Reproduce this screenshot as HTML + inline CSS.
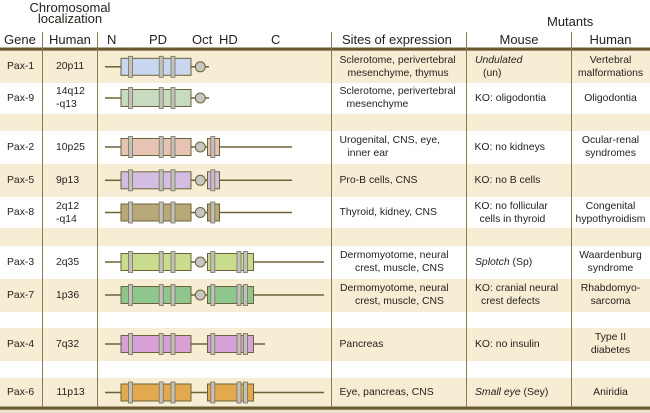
<!DOCTYPE html>
<html><head><meta charset="utf-8">
<style>
*{margin:0;padding:0;box-sizing:border-box}
body{width:650px;height:412px;position:relative;background:#fff;font-family:"Liberation Sans",Arial,Helvetica,sans-serif;color:#231f1a;overflow:hidden}
.bg{position:absolute;left:0;width:650px}
.b{background:#f6edd4}
.h{position:absolute;font-size:13px;line-height:15px;white-space:nowrap}
.c{position:absolute;display:flex;align-items:center;font-size:10.4px;line-height:13px;white-space:nowrap}
.ctr{justify-content:center;text-align:center}
svg{position:absolute;left:0;top:0}
</style></head><body>

<!-- row backgrounds -->
<div class="bg b" style="top:51px;height:31.5px"></div>
<div class="bg b" style="top:113.5px;height:17.5px"></div>
<div class="bg b" style="top:163.5px;height:33.5px"></div>
<div class="bg b" style="top:228px;height:18px"></div>
<div class="bg b" style="top:278.5px;height:33.5px"></div>
<div class="bg b" style="top:328px;height:32.5px"></div>
<div class="bg b" style="top:377.5px;height:32px"></div>
<div class="bg" style="top:409.5px;height:3px;background:#ece4cc"></div>

<svg width="650" height="412" viewBox="0 0 650 412">
<defs>
<g id="b1">
<line x1="105" y1="0" x2="121" y2="0" stroke="#6b6238" stroke-width="1.5"/>
<rect x="121" y="-8.5" width="70" height="17" stroke="#6b6238" stroke-width="1"/>
<rect x="128.5" y="-10.5" width="4" height="21" fill="#c4c1ba" stroke="#76735f" stroke-width="0.8"/>
<rect x="159.2" y="-10.5" width="4" height="21" fill="#c4c1ba" stroke="#76735f" stroke-width="0.8"/>
<rect x="171" y="-10.5" width="4" height="21" fill="#c4c1ba" stroke="#76735f" stroke-width="0.8"/>
</g>
<g id="cA">
<line x1="191" y1="0" x2="209" y2="0" stroke="#6b6238" stroke-width="1.5"/>
<circle cx="200.3" cy="0" r="5" fill="#c8c6c0" stroke="#6b6238" stroke-width="1"/>
</g>
<g id="cB">
<line x1="191" y1="0" x2="208" y2="0" stroke="#6b6238" stroke-width="1.5"/>
<circle cx="200.3" cy="0" r="5" fill="#c8c6c0" stroke="#6b6238" stroke-width="1"/>
</g>
<line id="conn" x1="191" y1="0" x2="208" y2="0" stroke="#6b6238" stroke-width="1.5"/>
<g id="bs">
<rect x="207.5" y="-8.5" width="12" height="17" stroke="#6b6238" stroke-width="1"/>
<rect x="210.8" y="-10.5" width="4" height="21" fill="#c4c1ba" stroke="#76735f" stroke-width="0.8"/>
</g>
<g id="bl">
<rect x="207.5" y="-8.5" width="46" height="17" stroke="#6b6238" stroke-width="1"/>
<rect x="210.8" y="-10.5" width="4" height="21" fill="#c4c1ba" stroke="#76735f" stroke-width="0.8"/>
<rect x="237" y="-10.5" width="4" height="21" fill="#c4c1ba" stroke="#76735f" stroke-width="0.8"/>
<rect x="243.5" y="-10.5" width="4" height="21" fill="#c4c1ba" stroke="#76735f" stroke-width="0.8"/>
</g>
</defs>

<!-- header & bottom rules -->
<rect x="0" y="47.5" width="650" height="3.2" fill="#6a5a30"/>
<rect x="0" y="406.5" width="650" height="3.2" fill="#6a5a30"/>

<!-- vertical lines -->
<g stroke="#8a7b52" stroke-width="1">
<line x1="42.5" y1="32" x2="42.5" y2="407"/>
<line x1="97.5" y1="32" x2="97.5" y2="407"/>
<line x1="331.5" y1="32" x2="331.5" y2="407"/>
<line x1="466.5" y1="32" x2="466.5" y2="407"/>
<line x1="571.5" y1="32" x2="571.5" y2="407"/>
</g>

<!-- Pax-1 -->
<use href="#cA" y="66.8"/>
<use href="#b1" y="66.8" fill="#c8d7ef"/>
<!-- Pax-9 -->
<use href="#cA" y="98"/>
<use href="#b1" y="98" fill="#c6dbbf"/>
<!-- Pax-2 -->
<line x1="219.5" y1="147" x2="292" y2="147" stroke="#6b6238" stroke-width="1.5"/>
<use href="#cB" y="147"/>
<use href="#b1" y="147" fill="#e6c3b3"/>
<use href="#bs" y="147" fill="#e6c3b3"/>
<!-- Pax-5 -->
<line x1="219.5" y1="180.3" x2="292" y2="180.3" stroke="#6b6238" stroke-width="1.5"/>
<use href="#cB" y="180.3"/>
<use href="#b1" y="180.3" fill="#d4bde3"/>
<use href="#bs" y="180.3" fill="#d4bde3"/>
<!-- Pax-8 -->
<line x1="219.5" y1="212.5" x2="292" y2="212.5" stroke="#6b6238" stroke-width="1.5"/>
<use href="#cB" y="212.5"/>
<use href="#b1" y="212.5" fill="#b9a878"/>
<use href="#bs" y="212.5" fill="#b9a878"/>
<!-- Pax-3 -->
<line x1="253.5" y1="262" x2="324" y2="262" stroke="#6b6238" stroke-width="1.5"/>
<use href="#cB" y="262"/>
<use href="#b1" y="262" fill="#c9dc8e"/>
<use href="#bl" y="262" fill="#c9dc8e"/>
<!-- Pax-7 -->
<line x1="253.5" y1="295" x2="324" y2="295" stroke="#6b6238" stroke-width="1.5"/>
<use href="#cB" y="295"/>
<use href="#b1" y="295" fill="#8ec68e"/>
<use href="#bl" y="295" fill="#8ec68e"/>
<!-- Pax-4 -->
<line x1="253.5" y1="344" x2="265" y2="344" stroke="#6b6238" stroke-width="1.5"/>
<use href="#conn" y="344"/>
<use href="#b1" y="344" fill="#d7a0d6"/>
<use href="#bl" y="344" fill="#d7a0d6"/>
<!-- Pax-6 -->
<line x1="253.5" y1="392.5" x2="324" y2="392.5" stroke="#6b6238" stroke-width="1.5"/>
<use href="#conn" y="392.5"/>
<use href="#b1" y="392.5" fill="#e2a94f"/>
<use href="#bl" y="392.5" fill="#e2a94f"/>
</svg>

<!-- header text -->
<div class="h" style="left:20px;width:100px;text-align:center;top:-0.3px">Chromosomal</div>
<div class="h" style="left:20px;width:100px;text-align:center;top:11.3px">localization</div>
<div class="h" style="left:547px;top:14px">Mutants</div>
<div class="h" style="left:4px;top:32.2px">Gene</div>
<div class="h" style="left:49px;top:32.2px">Human</div>
<div class="h" style="left:107px;top:32.2px">N</div>
<div class="h" style="left:149px;top:32.2px">PD</div>
<div class="h" style="left:192px;top:32.2px">Oct</div>
<div class="h" style="left:219px;top:32.2px">HD</div>
<div class="h" style="left:271px;top:32.2px">C</div>
<div class="h" style="left:342px;top:32.2px">Sites of expression</div>
<div class="h" style="left:467px;width:104px;text-align:center;top:32.2px">Mouse</div>
<div class="h" style="left:571px;width:79px;text-align:center;top:32.2px">Human</div>

<!-- Pax-1 -->
<div class="c" style="left:7px;top:51px;height:31.5px">Pax-1</div>
<div class="c" style="left:56px;top:51px;height:31.5px">20p11</div>
<div class="c" style="left:339.5px;top:51px;height:31.5px"><div><div>Sclerotome, perivertebral</div><div style="padding-left:8px">mesenchyme, thymus</div></div></div>
<div class="c" style="left:475px;top:51px;height:31.5px"><div><div><i>Undulated</i></div><div style="padding-left:8px">(un)</div></div></div>
<div class="c ctr" style="left:571px;width:79px;top:51px;height:31.5px"><div>Vertebral<br>malformations</div></div>

<!-- Pax-9 -->
<div class="c" style="left:7px;top:82.5px;height:31px">Pax-9</div>
<div class="c" style="left:56px;top:82.5px;height:31px"><div>14q12<br>-q13</div></div>
<div class="c" style="left:339.5px;top:82.5px;height:31px"><div><div>Sclerotome, perivertebral</div><div style="padding-left:7px">mesenchyme</div></div></div>
<div class="c" style="left:475px;top:82.5px;height:31px">KO: oligodontia</div>
<div class="c ctr" style="left:571px;width:79px;top:82.5px;height:31px">Oligodontia</div>

<!-- Pax-2 -->
<div class="c" style="left:7px;top:131px;height:32.5px">Pax-2</div>
<div class="c" style="left:56px;top:131px;height:32.5px">10p25</div>
<div class="c" style="left:339.5px;top:131px;height:32.5px"><div><div>Urogenital, CNS, eye,</div><div style="padding-left:8px">inner ear</div></div></div>
<div class="c" style="left:474.5px;top:131px;height:32.5px">KO: no kidneys</div>
<div class="c ctr" style="left:571px;width:79px;top:131px;height:32.5px"><div>Ocular-renal<br>syndromes</div></div>

<!-- Pax-5 -->
<div class="c" style="left:7px;top:163.5px;height:33.5px">Pax-5</div>
<div class="c" style="left:56px;top:163.5px;height:33.5px">9p13</div>
<div class="c" style="left:339.5px;top:163.5px;height:33.5px">Pro-B cells, CNS</div>
<div class="c" style="left:474.5px;top:163.5px;height:33.5px">KO: no B cells</div>

<!-- Pax-8 -->
<div class="c" style="left:7px;top:197px;height:31px">Pax-8</div>
<div class="c" style="left:56px;top:197px;height:31px"><div>2q12<br>-q14</div></div>
<div class="c" style="left:339.5px;top:197px;height:31px">Thyroid, kidney, CNS</div>
<div class="c" style="left:474.5px;top:197px;height:31px"><div><div>KO: no follicular</div><div style="padding-left:5px">cells in thyroid</div></div></div>
<div class="c ctr" style="left:571px;width:79px;top:197px;height:31px"><div>Congenital<br>hypothyroidism</div></div>

<!-- Pax-3 -->
<div class="c" style="left:7px;top:246px;height:32.5px">Pax-3</div>
<div class="c" style="left:56px;top:246px;height:32.5px">2q35</div>
<div class="c" style="left:340px;top:246px;height:32.5px"><div><div>Dermomyotome, neural</div><div style="padding-left:15px">crest, muscle, CNS</div></div></div>
<div class="c" style="left:475px;top:246px;height:32.5px"><span><i>Splotch</i> (Sp)</span></div>
<div class="c ctr" style="left:571px;width:79px;top:246px;height:32.5px"><div>Waardenburg<br>syndrome</div></div>

<!-- Pax-7 -->
<div class="c" style="left:7px;top:278.5px;height:33.5px">Pax-7</div>
<div class="c" style="left:56px;top:278.5px;height:33.5px">1p36</div>
<div class="c" style="left:340px;top:278.5px;height:33.5px"><div><div>Dermomyotome, neural</div><div style="padding-left:15px">crest, muscle, CNS</div></div></div>
<div class="c" style="left:475px;top:278.5px;height:33.5px"><div><div>KO: cranial neural</div><div style="padding-left:6px">crest defects</div></div></div>
<div class="c ctr" style="left:571px;width:79px;top:278.5px;height:33.5px"><div>Rhabdomyo-<br>sarcoma</div></div>

<!-- Pax-4 -->
<div class="c" style="left:7px;top:328px;height:32.5px">Pax-4</div>
<div class="c" style="left:56px;top:328px;height:32.5px">7q32</div>
<div class="c" style="left:339.5px;top:328px;height:32.5px">Pancreas</div>
<div class="c" style="left:475px;top:328px;height:32.5px">KO: no insulin</div>
<div class="c ctr" style="left:571px;width:79px;top:328px;height:32.5px"><div>Type II<br>diabetes</div></div>

<!-- Pax-6 -->
<div class="c" style="left:7px;top:377.5px;height:29.5px">Pax-6</div>
<div class="c" style="left:56.5px;top:377.5px;height:29.5px">11p13</div>
<div class="c" style="left:339.5px;top:377.5px;height:29.5px">Eye, pancreas, CNS</div>
<div class="c" style="left:475px;top:377.5px;height:29.5px"><span><i>Small eye</i> (Sey)</span></div>
<div class="c ctr" style="left:571px;width:79px;top:377.5px;height:29.5px">Aniridia</div>

</body></html>
